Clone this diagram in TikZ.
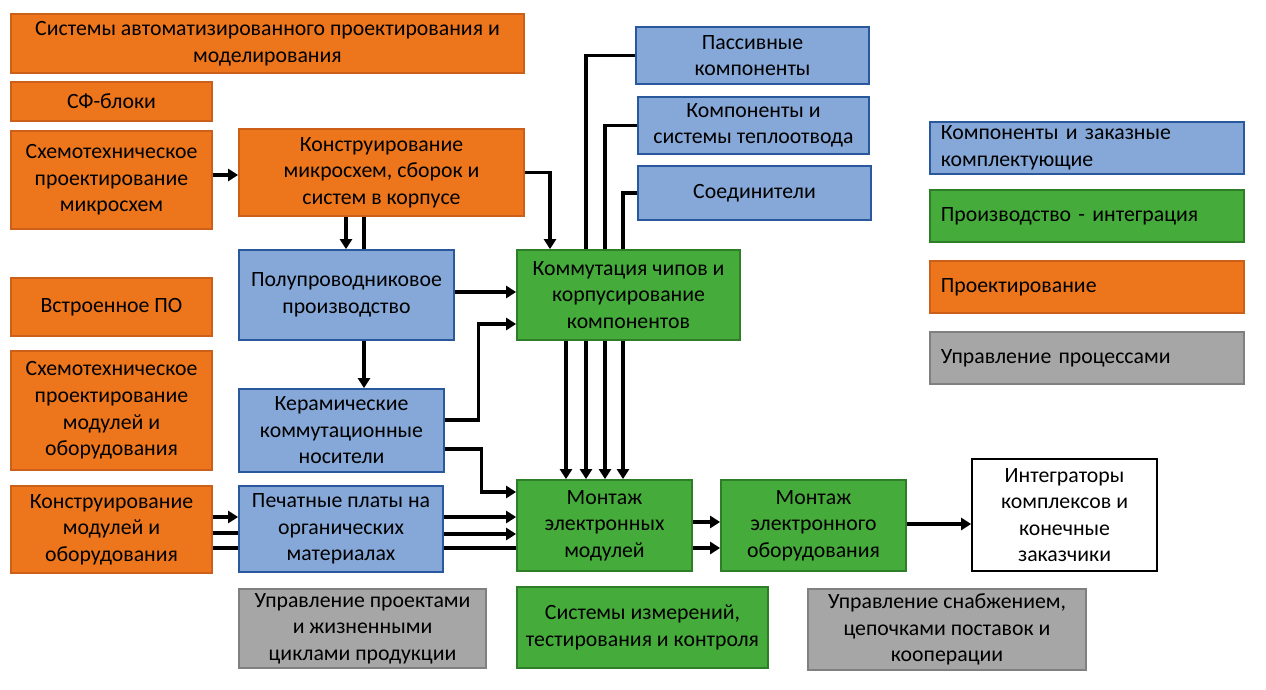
\documentclass[tikz,border=0pt]{standalone}
\usepackage{fontspec}
\setmainfont{Carlito}
\usetikzlibrary{arrows.meta}
\newcommand{\pxl}{0.02cm}
\definecolor{orangeF}{RGB}{237,118,29}
\definecolor{orangeD}{RGB}{204,96,24}
\definecolor{blueF}{RGB}{133,168,216}
\definecolor{blueD}{RGB}{41,89,156}
\definecolor{greenF}{RGB}{69,171,58}
\definecolor{greenD}{RGB}{46,125,40}
\definecolor{grayF}{RGB}{166,166,166}
\definecolor{grayD}{RGB}{128,128,128}
\tikzset{
  box/.style={draw, line width=1pt, align=center, inner sep=2pt, font=\fontsize{12.4}{15.1}\selectfont},
  design/.style={box, fill=orangeF, draw=orangeD},
  comp/.style={box, fill=blueF, draw=blueD},
  prod/.style={box, fill=greenF, draw=greenD},
  mgmt/.style={box, fill=grayF, draw=grayD},
  cust/.style={box, fill=white, draw=black},
  sz/.style 2 args={minimum width=#1*\pxl, minimum height=#2*\pxl},
  legend/.style={anchor=west, align=left, text width=292*\pxl, inner xsep=11*\pxl, minimum height=52*\pxl},
  arr/.style={line width=1.8pt, -{Triangle[length=0.2cm,width=0.24cm]}},
  ln/.style={line width=1.8pt},
}

\begin{document}
\begin{tikzpicture}[x=\pxl, y=-\pxl]

  \useasboundingbox (0,0) rectangle (1266,689);

  \node (sapr) at (267.5,43.5) [design, sz={513}{59}] {Системы автоматизированного проектирования и\\моделирования};
  \node (sfb) at (111.5,101.5) [design, sz={201}{39}] {СФ-блоки};
  \node (schem1) at (111.5,180) [design, sz={201}{98}] {Схемотехническое\\проектирование\\микросхем};
  \node (konstr) at (381.5,172.5) [design, sz={285}{87}] {Конструирование\\микросхем, сборок и\\систем в корпусе};
  \node (embed) at (111.5,307) [design, sz={201}{58}] {Встроенное ПО};
  \node (schem2) at (111.5,410.5) [design, sz={201}{119}] {Схемотехническое\\проектирование\\модулей и\\оборудования};
  \node (konmod) at (111.5,529.5) [design, sz={201}{87}] {Конструирование\\модулей и\\оборудования};

  \node (semi) at (346.5,295) [comp, sz={215}{90}] {Полупроводниковое\\производство};
  \node (ceramic) at (341.5,430.5) [comp, sz={205}{83}] {Керамические\\коммутационные\\носители};
  \node (pcb) at (341,529) [comp, sz={204}{86}] {Печатные платы на\\органических\\материалах};
  \node (passive) at (752.5,55.5) [comp, sz={233}{57}] {Пассивные\\компоненты};
  \node (heat) at (753.5,125.5) [comp, sz={231}{57}] {Компоненты и\\системы теплоотвода};
  \node (conn) at (754.5,193) [comp, sz={233}{54}] {Соединители};

  \node (chip) at (628.5,295) [prod, sz={223}{90}] {Коммутация чипов и\\корпусирование\\компонентов};
  \node (montage) at (604.5,525.5) [prod, sz={175}{91}] {Монтаж\\электронных\\модулей};
  \node (equip) at (813.5,525.5) [prod, sz={185}{91}] {Монтаж\\электронного\\оборудования};
  \node (measure) at (642.5,627.5) [prod, sz={251}{81}] {Системы измерений,\\тестирования и контроля};
  \node (integ) at (1064.5,515) [cust, sz={185}{112}] {Интеграторы\\комплексов и\\конечные\\заказчики};

  \node (pm) at (362.5,628.5) [mgmt, sz={247}{79}] {Управление проектами\\и жизненными\\циклами продукции};
  \node (supply) at (947,629.5) [mgmt, sz={278}{81}] {Управление снабжением,\\цепочками поставок и\\кооперации};

  \node (lgcomp) at (929,148) [comp, legend] {Компоненты и заказные\\комплектующие};
  \node (lgprod) at (929,216) [prod, legend] {Производство - интеграция};
  \node (lgdesign) at (929,287) [design, legend] {Проектирование};
  \node (lgmgmt) at (929,358) [mgmt, legend] {Управление процессами};

  \draw[arr] (schem1.east |- 0,175) -- (konstr.west |- 0,175);
  \draw[arr] (konstr.south -| 346,0) -- (semi.north -| 346,0);
  \draw[ln] (konstr.south -| 364,0) -- (semi.north -| 364,0);
  \draw[arr] (konstr.east) -| (chip.north -| 550,0);
  \draw[ln] (passive.west) -| (chip.north -| 586,0);
  \draw[ln] (heat.west) -| (chip.north -| 605,0);
  \draw[ln] (conn.west) -| (chip.north -| 623,0);

  \draw[arr] (semi.east |- 0,292) -- (chip.west |- 0,292);
  \draw[arr] (semi.south -| 364,0) -- (ceramic.north -| 364,0);
  \draw[arr] (ceramic.east |- 0,420) -- ++(34,0) |- (chip.west |- 0,324);
  \draw[arr] (ceramic.east |- 0,449) -- ++(37,0) |- (montage.west |- 0,492);

  \foreach \x in {566,586,605,623}
    \draw[arr] (chip.south -| \x,0) -- (montage.north -| \x,0);

  \draw[arr] (konmod.east |- 0,517) -- (pcb.west |- 0,517);
  \draw[ln] (konmod.east |- 0,533) -- (pcb.west |- 0,533);
  \draw[ln] (konmod.east |- 0,548) -- (pcb.west |- 0,548);
  \draw[arr] (pcb.east |- 0,517) -- (montage.west |- 0,517);
  \draw[arr] (pcb.east |- 0,534) -- (montage.west |- 0,534);
  \draw[ln] (pcb.east |- 0,548) -- (montage.west |- 0,548);

  \draw[arr] (montage.east |- 0,522) -- (equip.west |- 0,522);
  \draw[arr] (montage.east |- 0,548) -- (equip.west |- 0,548);
  \draw[arr] (equip.east |- 0,524) -- (integ.west |- 0,524);

\end{tikzpicture}
\end{document}
